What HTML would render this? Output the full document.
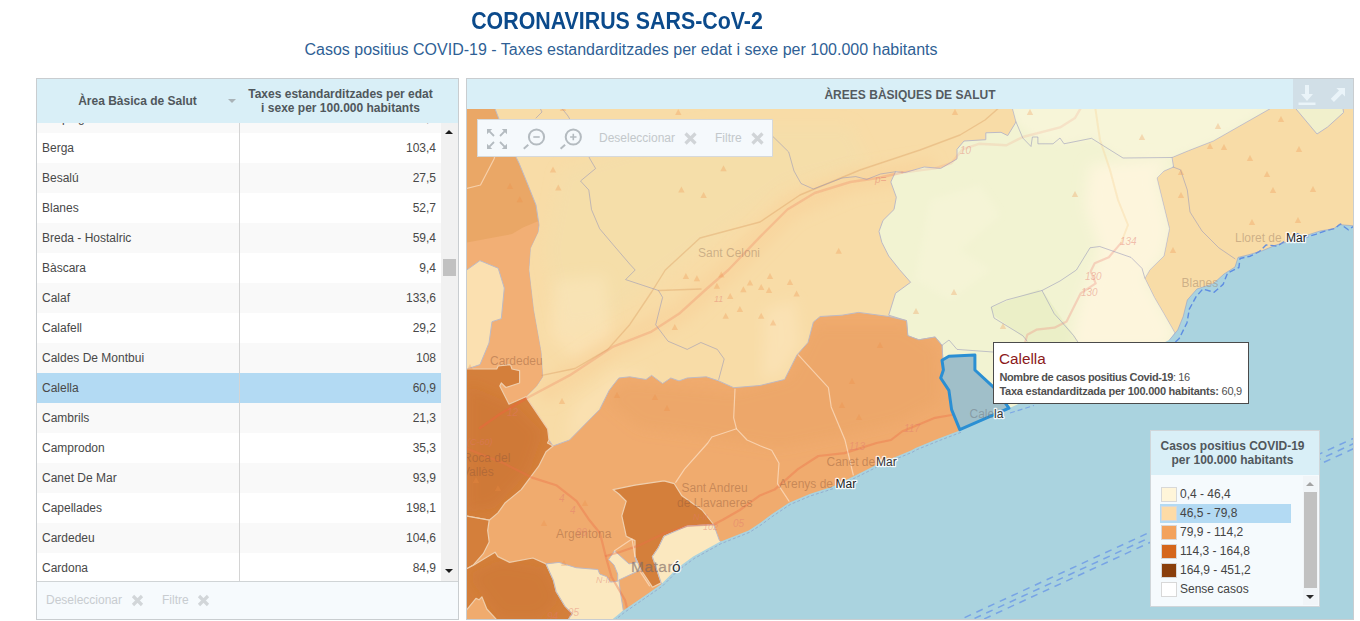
<!DOCTYPE html>
<html>
<head>
<meta charset="utf-8">
<title>CORONAVIRUS SARS-CoV-2</title>
<style>
html,body{margin:0;padding:0;}
body{width:1360px;height:621px;overflow:hidden;background:#fff;font-family:"Liberation Sans",sans-serif;position:relative;}
#title{position:absolute;left:0;top:8px;width:1234px;text-align:center;font-size:23px;font-weight:bold;color:#0b4a8b;letter-spacing:0;line-height:26px;white-space:nowrap;transform:scaleX(0.929);transform-origin:50% 50%;}
#subtitle{position:absolute;left:0;top:40px;width:1242px;text-align:center;font-size:16px;color:#2f5f95;letter-spacing:0;line-height:20px;white-space:nowrap;}
/* table panel */
#tpanel{position:absolute;left:36px;top:78px;width:423px;height:542px;border:1px solid #c9cdd0;box-sizing:border-box;background:#fff;overflow:hidden;}
#thead{position:absolute;left:0;top:0;width:421px;height:44px;background:#d9eff7;}
#thead .c1{position:absolute;left:0;top:0;width:201px;height:44px;line-height:45px;text-align:center;font-size:12px;font-weight:bold;color:#50575c;}
#thead .c2{position:absolute;left:209px;top:8px;width:189px;text-align:center;font-size:12px;font-weight:bold;color:#50575c;line-height:14px;}
#thead .arr{position:absolute;left:191px;top:20px;width:0;height:0;border-left:4px solid transparent;border-right:4px solid transparent;border-top:4px solid #a9b3b8;}
#tbody{position:absolute;left:0;top:44px;width:404px;height:459px;overflow:hidden;}
.row{position:absolute;left:0;width:404px;height:30px;font-size:12px;color:#484848;line-height:30px;}
.row.odd{background:#f9f9f9;}
.row.sel{background:#b3daf3;}
.row .n{position:absolute;left:5px;top:0;}
.row .v{position:absolute;right:5px;top:0;}
#coldiv{position:absolute;left:202px;top:44px;width:1px;height:459px;background:#d4d4d4;}
#sbar{position:absolute;left:404px;top:44px;width:17px;height:459px;background:#f1f1f1;}
#sbar .up{position:absolute;left:4px;top:7px;width:0;height:0;border-left:4px solid transparent;border-right:4px solid transparent;border-bottom:4px solid #1c1c1c;}
#sbar .dn{position:absolute;left:4px;top:446px;width:0;height:0;border-left:4px solid transparent;border-right:4px solid transparent;border-top:4px solid #1c1c1c;}
#sbar .th{position:absolute;left:2px;top:136px;width:13px;height:17px;background:#c1c1c1;}
#tfoot{position:absolute;left:0;top:502px;width:421px;height:37px;background:#f6fafd;border-top:1px solid #d0d4d6;font-size:12px;color:#c8ccd0;line-height:36px;}
.xic{position:absolute;}
/* map panel */
#mpanel{position:absolute;left:466px;top:78px;width:888px;height:542px;border:1px solid #c9cdd0;box-sizing:border-box;background:#a8cfe2;overflow:hidden;}
#mhead{position:absolute;left:0;top:0;width:886px;height:30px;background:#d9eff7;text-align:center;font-size:12px;font-weight:bold;color:#545b60;line-height:32px;letter-spacing:0.02px;}
#mbtns{position:absolute;left:826px;top:0;width:60px;height:30px;background:#d1dfe7;}
#map{position:absolute;left:0;top:30px;width:887px;height:511px;}
#tbar{position:absolute;left:10px;top:40px;width:296px;height:38px;background:#f5f9fc;border:1px solid #d6d9db;box-sizing:border-box;font-size:12px;color:#c3c8cb;line-height:37px;}
#tip{position:absolute;left:526px;top:263px;width:256px;height:62px;background:#fff;border:1px solid #4a4a4a;box-sizing:border-box;}
#tip .t{position:absolute;left:5px;top:6px;font-size:15.3px;color:#8b1a1a;line-height:20px;}
#tip .l1,#tip .l2{position:absolute;left:5.4px;font-size:11px;color:#505050;line-height:14px;white-space:nowrap;letter-spacing:-0.2px;}
#tip .l1{top:27px;letter-spacing:-0.39px;}
#tip .l2{top:41px;letter-spacing:-0.24px;}
#legend{position:absolute;left:683px;top:351px;width:170px;height:177px;background:#f5fafd;border:1px solid #d0d6da;box-sizing:border-box;}
#legend .h{position:absolute;left:0;top:0;width:168px;height:44px;background:#d9eff7;text-align:center;padding-right:5px;font-size:12px;font-weight:bold;color:#50575c;line-height:14px;padding-top:8px;box-sizing:border-box;}
.li{position:absolute;left:9px;width:131px;height:19px;font-size:12px;color:#444;line-height:19px;}
.li .sw{position:absolute;left:1px;top:2px;width:16px;height:15px;border:1px solid #d8d8d8;box-sizing:border-box;}
.li .tx{position:absolute;left:20px;top:0;white-space:nowrap;}
#lsb{position:absolute;left:152px;top:45px;width:15px;height:129px;background:#f1f5f8;}
#lsb .up{position:absolute;left:3px;top:6px;width:0;height:0;border-left:4px solid transparent;border-right:4px solid transparent;border-bottom:4px solid #a3a3a3;}
#lsb .dn{position:absolute;left:3px;top:119px;width:0;height:0;border-left:4px solid transparent;border-right:4px solid transparent;border-top:4px solid #2a2a2a;}
#lsb .th{position:absolute;left:1px;top:16px;width:13px;height:96px;background:#c1c1c1;}
</style>
</head>
<body>
<div id="title">CORONAVIRUS SARS-CoV-2</div>
<div id="subtitle">Casos positius COVID-19 - Taxes estandarditzades per edat i sexe per 100.000 habitants</div>

<div id="tpanel">
  <div id="thead">
    <div class="c1">Àrea Bàsica de Salut</div>
    <div class="arr"></div>
    <div class="c2">Taxes estandarditzades per edat<br>i sexe per 100.000 habitants</div>
  </div>
  <div id="tbody">
    <div class="row odd" style="top:-20px"><span class="n">Bellpuig</span><span class="v">37,1</span></div>
    <div class="row" style="top:10px"><span class="n">Berga</span><span class="v">103,4</span></div>
    <div class="row odd" style="top:40px"><span class="n">Besalú</span><span class="v">27,5</span></div>
    <div class="row" style="top:70px"><span class="n">Blanes</span><span class="v">52,7</span></div>
    <div class="row odd" style="top:100px"><span class="n">Breda - Hostalric</span><span class="v">59,4</span></div>
    <div class="row" style="top:130px"><span class="n">Bàscara</span><span class="v">9,4</span></div>
    <div class="row odd" style="top:160px"><span class="n">Calaf</span><span class="v">133,6</span></div>
    <div class="row" style="top:190px"><span class="n">Calafell</span><span class="v">29,2</span></div>
    <div class="row odd" style="top:220px"><span class="n">Caldes De Montbui</span><span class="v">108</span></div>
    <div class="row sel" style="top:250px"><span class="n">Calella</span><span class="v">60,9</span></div>
    <div class="row odd" style="top:280px"><span class="n">Cambrils</span><span class="v">21,3</span></div>
    <div class="row" style="top:310px"><span class="n">Camprodon</span><span class="v">35,3</span></div>
    <div class="row odd" style="top:340px"><span class="n">Canet De Mar</span><span class="v">93,9</span></div>
    <div class="row" style="top:370px"><span class="n">Capellades</span><span class="v">198,1</span></div>
    <div class="row odd" style="top:400px"><span class="n">Cardedeu</span><span class="v">104,6</span></div>
    <div class="row" style="top:430px"><span class="n">Cardona</span><span class="v">84,9</span></div>
  </div>
  <div id="coldiv"></div>
  <div id="sbar"><div class="up"></div><div class="th"></div><div class="dn"></div></div>
  <div id="tfoot">
    <span style="position:absolute;left:9px;top:0;">Deseleccionar</span>
    <svg class="xic" style="left:94px;top:12px" width="13" height="13" viewBox="0 0 13 13"><path d="M2 2 L11 11 M11 2 L2 11" stroke="#d2d6d9" stroke-width="3.2" fill="none"/></svg>
    <span style="position:absolute;left:125px;top:0;">Filtre</span>
    <svg class="xic" style="left:160px;top:12px" width="13" height="13" viewBox="0 0 13 13"><path d="M2 2 L11 11 M11 2 L2 11" stroke="#d2d6d9" stroke-width="3.2" fill="none"/></svg>
  </div>
</div>

<div id="mpanel">
  <div id="mhead">ÀREES BÀSIQUES DE SALUT</div>
  <div id="mbtns">
    <svg style="position:absolute;left:0;top:0" width="60" height="30" viewBox="0 0 60 30">
      <g fill="#eaf4f9">
        <path d="M12 6 H16 V15 H20 L14 22 L8 15 H12 Z"/>
        <rect x="5.5" y="23.5" width="17" height="2.5"/>
        <path d="M52 8.9 L52 17.6 L49.1 14.7 L40.9 22.9 L37.8 19.8 L46 11.6 L43.3 8.9 Z"/>
      </g>
    </svg>
  </div>
  <div id="map">
<!--MAPSVG-->
<svg width="887" height="511" viewBox="467 109 887 511" style="position:absolute;left:0;top:0;display:block">
<rect x="465" y="107" width="891" height="515" fill="#f8dca7"/>
<defs><clipPath id="landclip"><rect x="460" y="100" width="900" height="530"/></clipPath><filter id="bl" x="-20%" y="-20%" width="140%" height="140%"><feGaussianBlur stdDeviation="7"/></filter><filter id="bs" x="-20%" y="-20%" width="140%" height="140%"><feGaussianBlur stdDeviation="3"/></filter></defs>
<polygon points="560.0,170.0 700.0,125.0 850.0,125.0 870.0,165.0 790.0,185.0 720.0,235.0 650.0,285.0 600.0,325.0 560.0,330.0 545.0,250.0" fill="rgba(240,226,176,0.30)" filter="url(#bl)"/>
<polygon points="555.0,280.0 605.0,275.0 612.0,340.0 575.0,360.0 550.0,335.0" fill="rgba(255,238,205,0.30)" filter="url(#bl)"/>
<polygon points="575.0,405.0 600.0,385.0 612.0,372.0 650.0,372.0 610.0,400.0 585.0,430.0 565.0,440.0" fill="rgba(255,238,205,0.28)" filter="url(#bl)"/>
<polygon points="765.0,310.0 795.0,300.0 800.0,345.0 780.0,375.0 762.0,380.0" fill="rgba(255,240,210,0.30)" filter="url(#bl)"/>
<polyline points="540.0,395.0 613.0,346.0 680.0,313.0 728.0,270.0 790.0,208.0 850.0,182.0 935.0,168.0" fill="none" stroke="rgba(250,200,140,0.30)" stroke-width="22" filter="url(#bl)"/>
<polygon points="1011.8,106.0 1016.0,122.0 1007.7,135.6 1001.0,132.3 985.8,132.8 985.8,139.7 964.0,141.0 957.0,149.3 957.0,158.9 940.7,168.4 924.2,167.0 905.0,172.5 895.5,171.7 890.8,182.0 896.3,197.2 894.0,209.5 883.0,220.4 879.0,231.4 881.8,242.3 888.7,256.0 899.6,269.7 910.6,282.3 895.5,293.3 888.7,315.2 906.5,320.6 907.8,335.7 918.8,339.8 935.2,337.0 942.0,345.3 942.9,360.3 948.9,356.2 974.9,354.9 974.9,370.0 994.0,387.7 1009.0,408.2 1020.0,420.0 1180.0,345.0 1169.5,341.2 1175.0,333.0 1164.0,313.8 1154.4,297.4 1144.9,278.2 1150.0,269.7 1164.0,256.0 1169.5,228.7 1157.0,178.0 1164.0,171.0 1173.6,167.0 1172.0,157.5 1188.7,150.6 1213.3,141.0 1274.9,106.0" fill="#f2f3d2" stroke="#bdbac6" stroke-width="1" stroke-linejoin="round"/>
<clipPath id="cpale"><polygon points="1011.8,106.0 1016.0,122.0 1007.7,135.6 1001.0,132.3 985.8,132.8 985.8,139.7 964.0,141.0 957.0,149.3 957.0,158.9 940.7,168.4 924.2,167.0 905.0,172.5 895.5,171.7 890.8,182.0 896.3,197.2 894.0,209.5 883.0,220.4 879.0,231.4 881.8,242.3 888.7,256.0 899.6,269.7 910.6,282.3 895.5,293.3 888.7,315.2 906.5,320.6 907.8,335.7 918.8,339.8 935.2,337.0 942.0,345.3 942.9,360.3 948.9,356.2 974.9,354.9 974.9,370.0 994.0,387.7 1009.0,408.2 1020.0,420.0 1180.0,345.0 1169.5,341.2 1175.0,333.0 1164.0,313.8 1154.4,297.4 1144.9,278.2 1150.0,269.7 1164.0,256.0 1169.5,228.7 1157.0,178.0 1164.0,171.0 1173.6,167.0 1172.0,157.5 1188.7,150.6 1213.3,141.0 1274.9,106.0"/></clipPath>
<g clip-path="url(#cpale)">
<polygon points="1010.0,100.0 1280.0,100.0 1215.0,140.0 1172.0,157.0 1123.0,158.0 1091.0,138.0 1064.0,144.0 1040.0,140.0 1016.0,122.0" fill="rgba(252,246,220,0.55)" filter="url(#bs)"/>
<polygon points="930.0,200.0 980.0,185.0 1000.0,215.0 960.0,250.0 990.0,270.0 950.0,300.0 915.0,280.0" fill="rgba(250,246,220,0.35)" filter="url(#bs)"/>
<polygon points="1090.0,165.0 1172.0,158.0 1157.0,178.0 1170.0,229.0 1164.0,256.0 1145.0,278.0 1175.0,333.0 1165.0,350.0 1070.0,350.0 1080.0,300.0 1100.0,250.0 1085.0,205.0" fill="rgba(255,246,222,0.85)" filter="url(#bl)"/>
<polygon points="990.0,307.5 1038.4,289.4 1044.4,293.4 1066.6,325.6 1078.6,341.7 1027.0,342.0 1024.3,337.7 994.0,315.6" fill="rgba(226,234,186,0.45)"/>
</g>
<polygon points="1293.5,106.0 1317.0,134.0 1327.6,127.0 1343.6,112.5 1342.6,106.0" fill="#f1f0cc" stroke="#bdbac6" stroke-width="1" stroke-linejoin="round"/>
<polygon points="465.0,106.0 494.0,106.0 505.0,135.0 519.0,163.0 528.0,185.0 536.0,205.0 539.0,225.0 538.0,232.0 530.3,248.3 528.8,269.8 533.4,309.5 541.0,352.3 542.6,376.8 536.5,386.0 525.7,396.7 509.0,404.3 499.8,386.0 496.7,369.0 465.0,369.0" fill="#eaa766" stroke="#bdbac6" stroke-width="1" stroke-linejoin="round"/>
<polygon points="465.0,243.0 491.0,238.0 512.0,234.0 523.0,227.5 538.5,221.0 538.0,232.0 530.3,248.3 528.8,269.8 533.4,309.5 541.0,352.3 542.6,376.8 536.5,386.0 525.7,396.7 509.0,404.3 499.8,386.0 496.7,369.0 465.0,369.0" fill="#f2af75"/>
<polygon points="465.0,270.5 467.0,269.8 479.9,260.6 498.2,268.2 504.3,288.0 501.3,318.7 492.0,321.7 489.0,343.0 480.0,364.6 467.0,369.0 465.0,369.0" fill="#fbe0b0" stroke="#bdbac6" stroke-width="1" stroke-linejoin="round"/>
<polygon points="465.0,440.0 549.0,440.0 553.0,446.0 569.5,440.0 591.4,417.8 599.6,409.6 609.2,390.4 613.3,385.0 618.8,378.0 629.7,376.8 646.0,379.5 651.6,375.4 662.6,383.6 670.8,378.0 679.0,380.9 687.2,378.0 706.4,376.8 718.7,380.9 733.7,387.7 760.0,385.5 784.6,379.5 797.0,354.9 808.0,342.5 813.4,322.0 820.2,316.5 842.0,315.2 858.5,312.4 888.7,316.5 906.5,320.6 907.8,335.7 918.8,339.8 935.2,337.0 942.0,345.3 942.9,360.3 943.4,370.0 940.7,378.0 948.9,390.4 951.6,409.6 959.8,429.6 965.0,440.0 609.0,625.0 465.0,625.0" fill="#f0ab6e" stroke="#bdbac6" stroke-width="1" stroke-linejoin="round"/>
<polygon points="465.0,369.0 496.7,369.0 498.2,366.0 510.5,364.6 512.0,369.0 519.6,370.7 519.6,383.0 505.9,387.5 501.3,383.0 499.8,386.0 509.0,404.3 525.7,396.7 547.6,428.8 549.0,440.0 547.5,443.0 553.0,446.0 546.0,451.7 538.7,466.2 521.2,489.6 505.2,502.7 497.9,512.9 489.2,520.2 465.0,515.8" fill="#d47f3b" stroke="#efcfae" stroke-width="1.2" stroke-linejoin="round"/>
<polygon points="465.0,515.8 489.2,520.2 487.7,530.4 489.2,542.0 483.3,553.7 473.0,565.4 465.0,569.7" fill="#d47f3b" stroke="#efcfae" stroke-width="1.2" stroke-linejoin="round"/>
<polygon points="465.0,569.7 473.0,565.4 495.0,552.2 497.9,556.6 509.6,562.4 532.9,558.0 546.0,563.9 553.3,580.0 556.2,591.6 565.0,606.2 572.2,613.5 565.0,625.0 501.5,625.0 486.8,609.0 481.9,596.8 479.0,599.8 476.0,598.3 465.0,612.0" fill="#d47f3b" stroke="#efcfae" stroke-width="1.2" stroke-linejoin="round"/>
<polygon points="613.0,489.6 635.0,485.2 664.0,480.8 674.3,483.7 681.6,495.4 702.0,510.0 713.6,524.5 687.4,526.0 664.0,536.2 658.3,547.9 652.4,556.6 661.2,582.9 652.4,587.2 640.8,569.7 635.0,556.6 635.0,540.6 626.2,536.2 621.8,515.8 626.2,501.2 618.9,494.0" fill="#d47f3b" stroke="#efcfae" stroke-width="1.2" stroke-linejoin="round"/>
<clipPath id="cd1"><polygon points="465.0,369.0 496.7,369.0 498.2,366.0 510.5,364.6 512.0,369.0 519.6,370.7 519.6,383.0 505.9,387.5 501.3,383.0 499.8,386.0 509.0,404.3 525.7,396.7 547.6,428.8 549.0,440.0 547.5,443.0 553.0,446.0 546.0,451.7 538.7,466.2 521.2,489.6 505.2,502.7 497.9,512.9 489.2,520.2 465.0,515.8"/><polygon points="465.0,569.7 473.0,565.4 495.0,552.2 497.9,556.6 509.6,562.4 532.9,558.0 546.0,563.9 553.3,580.0 556.2,591.6 565.0,606.2 572.2,613.5 565.0,625.0 501.5,625.0 486.8,609.0 481.9,596.8 479.0,599.8 476.0,598.3 465.0,612.0"/></clipPath>
<g clip-path="url(#cd1)">
<polygon points="467.0,385.0 515.0,405.0 543.0,432.0 530.0,470.0 495.0,508.0 467.0,512.0" fill="rgba(190,100,40,0.20)" filter="url(#bl)"/>
<polygon points="467.0,575.0 500.0,560.0 545.0,568.0 560.0,600.0 540.0,619.0 500.0,619.0" fill="rgba(190,100,40,0.18)" filter="url(#bl)"/>
</g>
<clipPath id="cband"><polygon points="465.0,440.0 549.0,440.0 553.0,446.0 569.5,440.0 591.4,417.8 599.6,409.6 609.2,390.4 613.3,385.0 618.8,378.0 629.7,376.8 646.0,379.5 651.6,375.4 662.6,383.6 670.8,378.0 679.0,380.9 687.2,378.0 706.4,376.8 718.7,380.9 733.7,387.7 760.0,385.5 784.6,379.5 797.0,354.9 808.0,342.5 813.4,322.0 820.2,316.5 842.0,315.2 858.5,312.4 888.7,316.5 906.5,320.6 907.8,335.7 918.8,339.8 935.2,337.0 942.0,345.3 942.9,360.3 943.4,370.0 940.7,378.0 948.9,390.4 951.6,409.6 959.8,429.6 965.0,440.0 609.0,625.0 465.0,625.0"/></clipPath>
<g clip-path="url(#cband)">
<polygon points="605.0,400.0 625.0,382.0 735.0,392.0 790.0,378.0 815.0,325.0 905.0,325.0 938.0,348.0 940.0,400.0 900.0,422.0 840.0,436.0 780.0,448.0 700.0,436.0 640.0,428.0" fill="rgba(225,150,85,0.20)" filter="url(#bl)"/>
</g>
<polygon points="546.0,563.9 559.0,562.4 576.0,567.7 597.9,569.5 599.7,574.0 606.9,576.7 610.5,582.1 617.7,581.2 617.7,574.0 614.0,565.0 608.7,559.5 614.5,550.8 629.0,563.9 636.4,562.4 635.0,556.6 640.8,569.7 618.9,580.0 620.3,591.6 623.3,610.6 609.0,625.0 565.0,625.0 572.2,613.5 565.0,606.2 556.2,591.6 553.3,580.0" fill="#fbe8bf" stroke="#bdbac6" stroke-width="1" stroke-linejoin="round"/>
<polygon points="664.0,536.2 687.4,526.0 713.6,524.5 719.5,540.6 725.0,545.0 665.0,590.0 661.2,582.9 652.4,556.6 658.3,547.9" fill="#fbe8bf" stroke="#bdbac6" stroke-width="1" stroke-linejoin="round"/>
<polyline points="465.0,448.0 503.7,463.3 532.9,477.9 556.2,485.2 576.6,501.2 588.3,518.7 600.0,533.3 605.8,556.6 611.6,577.0 625.0,600.0 628.0,612.0" fill="none" stroke="rgba(236,110,70,0.38)" stroke-width="2.2" stroke-linejoin="round" stroke-linecap="round"/>
<polyline points="480.0,428.0 500.0,414.0 525.7,398.7" fill="none" stroke="rgba(240,100,60,0.45)" stroke-width="2.4" stroke-linejoin="round" stroke-linecap="round"/>
<polyline points="525.7,398.7 569.5,375.4 613.3,346.6 651.6,331.6 679.0,313.8 706.4,289.0 728.3,270.0 760.0,236.9 787.4,209.5 814.7,193.0 850.3,182.0 877.7,178.0 902.3,172.5" fill="none" stroke="rgba(236,120,90,0.26)" stroke-width="2.4" stroke-linejoin="round" stroke-linecap="round"/>
<polyline points="902.3,172.5 935.2,168.4 951.6,163.0 962.6,149.3 979.0,143.8 1006.4,145.2 1022.8,137.0 1060.0,127.4 1075.0,118.0 1082.0,106.0" fill="none" stroke="rgba(240,130,110,0.16)" stroke-width="2.4" stroke-linejoin="round" stroke-linecap="round"/>
<polyline points="606.0,556.0 620.0,552.0 640.0,545.0 665.0,533.0 687.0,526.0 713.6,524.5 722.4,520.0 739.9,510.0 760.0,495.4 774.6,489.6 797.9,469.2 818.3,456.0 844.5,453.1 876.6,443.0 891.0,440.0 902.0,431.5 935.0,417.8 951.6,415.0 975.0,404.0 1000.0,392.0" fill="none" stroke="rgba(236,110,70,0.38)" stroke-width="2.2" stroke-linejoin="round" stroke-linecap="round"/>
<polyline points="1121.0,243.0 1128.0,225.0 1118.0,200.0 1110.0,170.0 1100.0,140.0 1095.0,106.0" fill="none" stroke="rgba(250,205,140,0.30)" stroke-width="2" stroke-linejoin="round" stroke-linecap="round"/>
<polyline points="1120.9,243.1 1108.8,257.2 1094.7,263.2 1090.7,271.3 1095.7,283.4 1080.6,293.4 1072.6,309.5 1066.6,321.6 1054.5,327.7 1036.4,329.7 1027.3,334.7 1025.3,341.7" fill="none" stroke="rgba(238,130,120,0.30)" stroke-width="2.2" stroke-linejoin="round" stroke-linecap="round"/>
<polyline points="542.0,375.4 575.0,368.5 607.8,349.4 629.7,324.7 651.6,292.0 665.3,270.0 700.0,238.0 760.0,222.0 800.0,195.0 860.0,170.0 920.0,150.0 960.0,135.0 985.0,120.0 1001.0,106.0" fill="none" stroke="rgba(214,150,90,0.35)" stroke-width="1.4" stroke-linejoin="round" stroke-linecap="round"/>
<polyline points="658.5,290.5 701.0,289.0" fill="none" stroke="rgba(214,150,90,0.35)" stroke-width="1.4" stroke-linejoin="round" stroke-linecap="round"/>
<polygon points="1356.0,226.0 1339.0,224.6 1333.7,228.7 1320.0,231.0 1306.0,235.5 1287.0,242.0 1276.0,245.0 1262.6,250.6 1249.0,254.7 1238.0,257.4 1235.0,267.0 1224.0,274.0 1213.3,283.7 1196.9,289.0 1187.3,300.0 1183.2,316.5 1177.7,330.0 1169.5,339.8 1150.0,350.0 1100.0,370.0 1050.0,390.0 1009.0,408.2 959.8,430.5 938.6,438.6 915.5,447.9 911.6,450.2 876.6,464.8 856.2,475.0 832.9,486.6 809.6,494.0 789.0,502.7 771.7,514.3 760.0,523.0 748.6,530.4 719.5,542.0 693.2,556.6 677.2,568.3 661.2,584.3 646.6,594.5 623.3,610.6 609.0,622.0 1356.0,625.0" fill="#aad3df"/>
<polyline points="560.0,106.0 568.0,116.0 576.0,130.0 590.0,159.0 595.6,168.5 580.5,181.0 588.8,190.0 591.5,209.6 599.7,228.8 613.4,245.0 630.0,264.4 635.2,270.0 625.6,279.6 658.5,290.5 662.6,297.4 655.7,324.8 668.0,341.2 687.2,349.4 700.9,342.5 717.3,349.4 724.2,359.0 718.7,379.5" fill="none" stroke="rgba(150,150,185,0.55)" stroke-width="1" stroke-linejoin="round" stroke-linecap="round"/>
<polyline points="760.0,128.0 772.0,135.6 788.7,152.0 794.0,171.0 801.0,183.5 813.4,189.0 842.0,178.0 855.8,176.6 866.8,179.4 880.4,174.0 895.5,171.7" fill="none" stroke="rgba(150,150,185,0.55)" stroke-width="1" stroke-linejoin="round" stroke-linecap="round"/>
<polyline points="1016.0,122.0 1022.8,138.0 1031.0,146.5 1032.4,137.0 1037.9,137.0 1037.9,143.8 1053.0,143.8 1060.0,138.0 1064.0,143.8 1091.5,138.3 1123.0,158.0 1172.0,157.5" fill="none" stroke="rgba(150,150,185,0.55)" stroke-width="1" stroke-linejoin="round" stroke-linecap="round"/>
<polyline points="1144.9,278.2 1142.0,268.4 1131.0,257.4 1099.7,246.5 1090.0,247.8 1076.4,270.0 1060.0,281.0 1042.0,290.5 1006.4,300.0 991.3,307.0 994.0,318.0 1022.8,335.7 1027.0,341.0" fill="none" stroke="rgba(150,150,185,0.55)" stroke-width="1" stroke-linejoin="round" stroke-linecap="round"/>
<polyline points="1042.0,290.5 1054.3,313.8 1060.0,320.0 1073.7,335.7 1077.8,342.0" fill="none" stroke="rgba(150,150,185,0.55)" stroke-width="1" stroke-linejoin="round" stroke-linecap="round"/>
<polyline points="1173.0,167.0 1180.5,169.8 1187.3,190.0 1190.0,212.0 1202.0,231.0 1218.8,247.8 1235.0,258.8" fill="none" stroke="rgba(150,150,185,0.55)" stroke-width="1" stroke-linejoin="round" stroke-linecap="round"/>
<polyline points="942.0,345.3 949.0,340.0 957.0,349.4 992.7,352.0" fill="none" stroke="rgba(150,150,185,0.55)" stroke-width="1" stroke-linejoin="round" stroke-linecap="round"/>
<polyline points="539.0,106.0 542.0,112.0 536.0,118.0" fill="none" stroke="rgba(150,150,185,0.55)" stroke-width="1" stroke-linejoin="round" stroke-linecap="round"/>
<polyline points="465.0,189.0 480.5,185.0 494.0,159.0 500.0,140.0" fill="none" stroke="rgba(255,235,215,0.6)" stroke-width="1.2" stroke-linejoin="round" stroke-linecap="round"/>
<polyline points="735.0,389.0 733.7,417.8 736.5,428.8 711.8,437.0 707.8,443.0 684.5,469.2 675.7,482.3" fill="none" stroke="rgba(255,235,215,0.6)" stroke-width="1.2" stroke-linejoin="round" stroke-linecap="round"/>
<polyline points="798.3,354.9 828.4,387.7 831.2,406.9 844.9,439.7 853.3,475.0" fill="none" stroke="rgba(255,235,215,0.6)" stroke-width="1.2" stroke-linejoin="round" stroke-linecap="round"/>
<polyline points="736.5,428.8 747.0,440.0 760.0,445.8 771.7,450.2 779.0,463.3 777.5,483.7 789.0,501.2" fill="none" stroke="rgba(255,235,215,0.6)" stroke-width="1.2" stroke-linejoin="round" stroke-linecap="round"/>
<polyline points="614.5,550.8 632.0,539.0 635.0,556.6" fill="none" stroke="rgba(255,235,215,0.6)" stroke-width="1.2" stroke-linejoin="round" stroke-linecap="round"/>
<polyline points="640.8,572.6 649.5,585.8" fill="none" stroke="rgba(255,235,215,0.6)" stroke-width="1.2" stroke-linejoin="round" stroke-linecap="round"/>
<polygon points="942.0,360.3 948.9,356.2 974.9,354.9 974.9,370.0 994.0,387.7 1009.0,408.2 959.8,429.6 951.6,409.6 948.9,390.4 940.7,378.0 943.4,370.0" fill="#a0bfc9" stroke="#2b8fd3" stroke-width="3" stroke-linejoin="round"/>
<polyline points="952.9,623.0 1357.9,436.3" fill="none" stroke="#6f9be6" stroke-width="1.5" stroke-linejoin="round" stroke-linecap="butt" stroke-dasharray="7,5.9" stroke-dashoffset="0.0" opacity="0.85"/>
<polyline points="955.0,627.4 1360.0,440.7" fill="none" stroke="#6f9be6" stroke-width="1.5" stroke-linejoin="round" stroke-linecap="butt" stroke-dasharray="7,5.9" stroke-dashoffset="4.3" opacity="0.85"/>
<polyline points="956.9,631.5 1361.9,444.8" fill="none" stroke="#6f9be6" stroke-width="1.5" stroke-linejoin="round" stroke-linecap="butt" stroke-dasharray="7,5.9" stroke-dashoffset="8.6" opacity="0.85"/>
<polyline points="1356.0,224.5 1352.8,226.9 1348.3,229.8 1340.4,224.0 1334.7,228.5 1325.7,230.7 1315.6,234.4 1306.6,237.0 1297.5,233.7 1286.3,240.4 1277.2,246.0 1266.0,245.0 1259.2,251.7 1250.2,256.2 1240.0,258.5 1238.9,267.5 1227.6,273.0 1223.1,284.4 1214.1,292.3 1202.8,289.0 1196.0,296.8 1189.3,309.2 1187.0,322.7 1179.2,338.5 1172.0,345.0" fill="none" stroke="#5585e2" stroke-width="1.4" stroke-linejoin="round" stroke-linecap="butt" stroke-dasharray="6,3" opacity="0.9"/>
<polyline points="1010.0,413.0 1034.0,405.5" fill="none" stroke="#6f9be6" stroke-width="1.1" stroke-linejoin="round" stroke-linecap="butt" stroke-dasharray="5,3" opacity="0.8"/>
<polyline points="1356.0,226.0 1339.0,224.6 1333.7,228.7 1320.0,231.0 1306.0,235.5 1287.0,242.0 1276.0,245.0 1262.6,250.6 1249.0,254.7 1238.0,257.4 1235.0,267.0 1224.0,274.0 1213.3,283.7 1196.9,289.0 1187.3,300.0 1183.2,316.5 1177.7,330.0 1169.5,339.8" fill="none" stroke="rgba(140,150,200,0.5)" stroke-width="1" stroke-linejoin="round" stroke-linecap="round"/>
<polyline points="961.0,432.3 939.8,440.4 916.7,449.7 912.8,452.0 877.8,466.6 857.4,476.8 834.1,488.4 810.8,495.8 790.2,504.5 772.9,516.1 761.2,524.8 749.8,532.2 720.7,543.8 694.4,558.4 678.4,570.1 662.4,586.1 647.8,596.3 624.5,612.4 610.2,623.8" fill="none" stroke="rgba(120,130,190,0.45)" stroke-width="1" stroke-linejoin="round" stroke-linecap="butt" stroke-dasharray="3,2"/>
<path d="M678.3 109.0 l3.2 6 h-6.4 z" fill="rgba(238,140,70,0.28)"/>
<path d="M510.0 183.0 l3.2 6 h-6.4 z" fill="rgba(238,140,70,0.28)"/>
<path d="M519.8 196.3 l3.2 6 h-6.4 z" fill="rgba(238,140,70,0.28)"/>
<path d="M553.0 166.6 l3.2 6 h-6.4 z" fill="rgba(238,140,70,0.28)"/>
<path d="M558.3 184.4 l3.2 6 h-6.4 z" fill="rgba(238,140,70,0.28)"/>
<path d="M723.5 165.3 l3.2 6 h-6.4 z" fill="rgba(238,140,70,0.28)"/>
<path d="M681.4 186.6 l3.2 6 h-6.4 z" fill="rgba(238,140,70,0.28)"/>
<path d="M703.6 191.9 l3.2 6 h-6.4 z" fill="rgba(238,140,70,0.28)"/>
<path d="M838.7 247.7 l3.2 6 h-6.4 z" fill="rgba(238,140,70,0.28)"/>
<path d="M685.9 272.9 l3.2 6 h-6.4 z" fill="rgba(238,140,70,0.28)"/>
<path d="M696.9 275.2 l3.2 6 h-6.4 z" fill="rgba(238,140,70,0.28)"/>
<path d="M721.3 271.6 l3.2 6 h-6.4 z" fill="rgba(238,140,70,0.28)"/>
<path d="M716.9 282.7 l3.2 6 h-6.4 z" fill="rgba(238,140,70,0.28)"/>
<path d="M750.0 279.6 l3.2 6 h-6.4 z" fill="rgba(238,140,70,0.28)"/>
<path d="M770.0 272.9 l3.2 6 h-6.4 z" fill="rgba(238,140,70,0.28)"/>
<path d="M743.4 286.2 l3.2 6 h-6.4 z" fill="rgba(238,140,70,0.28)"/>
<path d="M761.2 284.0 l3.2 6 h-6.4 z" fill="rgba(238,140,70,0.28)"/>
<path d="M730.2 292.9 l3.2 6 h-6.4 z" fill="rgba(238,140,70,0.28)"/>
<path d="M739.9 306.1 l3.2 6 h-6.4 z" fill="rgba(238,140,70,0.28)"/>
<path d="M725.7 312.8 l3.2 6 h-6.4 z" fill="rgba(238,140,70,0.28)"/>
<path d="M674.8 323.9 l3.2 6 h-6.4 z" fill="rgba(238,140,70,0.28)"/>
<path d="M796.6 290.6 l3.2 6 h-6.4 z" fill="rgba(238,140,70,0.28)"/>
<path d="M773.1 319.4 l3.2 6 h-6.4 z" fill="rgba(238,140,70,0.28)"/>
<path d="M761.2 312.8 l3.2 6 h-6.4 z" fill="rgba(238,140,70,0.28)"/>
<path d="M1281.0 116.0 l3.2 6 h-6.4 z" fill="rgba(238,140,70,0.28)"/>
<path d="M1224.0 144.0 l3.2 6 h-6.4 z" fill="rgba(238,140,70,0.28)"/>
<path d="M1210.0 143.0 l3.2 6 h-6.4 z" fill="rgba(238,140,70,0.28)"/>
<path d="M1250.0 155.0 l3.2 6 h-6.4 z" fill="rgba(238,140,70,0.28)"/>
<path d="M1299.0 146.0 l3.2 6 h-6.4 z" fill="rgba(238,140,70,0.28)"/>
<path d="M1267.0 171.0 l3.2 6 h-6.4 z" fill="rgba(238,140,70,0.28)"/>
<path d="M1273.0 187.0 l3.2 6 h-6.4 z" fill="rgba(238,140,70,0.28)"/>
<path d="M1313.0 186.0 l3.2 6 h-6.4 z" fill="rgba(238,140,70,0.28)"/>
<path d="M1181.0 169.0 l3.2 6 h-6.4 z" fill="rgba(238,140,70,0.28)"/>
<path d="M1252.0 219.0 l3.2 6 h-6.4 z" fill="rgba(238,140,70,0.28)"/>
<path d="M1298.0 217.0 l3.2 6 h-6.4 z" fill="rgba(238,140,70,0.28)"/>
<path d="M1173.0 247.0 l3.2 6 h-6.4 z" fill="rgba(238,140,70,0.28)"/>
<path d="M1181.0 192.0 l3.2 6 h-6.4 z" fill="rgba(238,140,70,0.28)"/>
<path d="M1142.0 134.0 l3.2 6 h-6.4 z" fill="rgba(238,140,70,0.28)"/>
<path d="M1218.0 123.0 l3.2 6 h-6.4 z" fill="rgba(238,140,70,0.28)"/>
<path d="M1075.0 191.0 l3.2 6 h-6.4 z" fill="rgba(238,140,70,0.28)"/>
<path d="M1030.0 109.0 l3.2 6 h-6.4 z" fill="rgba(238,140,70,0.28)"/>
<path d="M955.0 109.0 l3.2 6 h-6.4 z" fill="rgba(238,140,70,0.28)"/>
<path d="M852.0 378.0 l3.2 6 h-6.4 z" fill="rgba(238,140,70,0.28)"/>
<path d="M880.0 342.0 l3.2 6 h-6.4 z" fill="rgba(238,140,70,0.28)"/>
<path d="M842.0 402.0 l3.2 6 h-6.4 z" fill="rgba(238,140,70,0.28)"/>
<path d="M859.0 414.0 l3.2 6 h-6.4 z" fill="rgba(238,140,70,0.28)"/>
<path d="M617.0 392.0 l3.2 6 h-6.4 z" fill="rgba(238,140,70,0.28)"/>
<path d="M655.0 394.0 l3.2 6 h-6.4 z" fill="rgba(238,140,70,0.28)"/>
<path d="M667.0 405.0 l3.2 6 h-6.4 z" fill="rgba(238,140,70,0.28)"/>
<path d="M562.0 398.0 l3.2 6 h-6.4 z" fill="rgba(238,140,70,0.28)"/>
<path d="M470.0 364.0 l3.2 6 h-6.4 z" fill="rgba(238,140,70,0.28)"/>
<path d="M476.0 477.0 l3.2 6 h-6.4 z" fill="rgba(238,140,70,0.28)"/>
<path d="M498.0 485.0 l3.2 6 h-6.4 z" fill="rgba(238,140,70,0.28)"/>
<path d="M544.0 520.0 l3.2 6 h-6.4 z" fill="rgba(238,140,70,0.28)"/>
<path d="M585.0 500.0 l3.2 6 h-6.4 z" fill="rgba(238,140,70,0.28)"/>
<path d="M564.0 560.0 l3.2 6 h-6.4 z" fill="rgba(238,140,70,0.28)"/>
<path d="M1003.0 323.0 l3.2 6 h-6.4 z" fill="rgba(238,140,70,0.28)"/>
<path d="M954.0 289.0 l3.2 6 h-6.4 z" fill="rgba(238,140,70,0.28)"/>
<path d="M916.0 308.0 l3.2 6 h-6.4 z" fill="rgba(238,140,70,0.28)"/>
<path d="M769.0 287.0 l3.2 6 h-6.4 z" fill="rgba(238,140,70,0.28)"/>
<path d="M790.0 279.0 l3.2 6 h-6.4 z" fill="rgba(238,140,70,0.28)"/>
<path d="M563.0 105.0 l3.2 6 h-6.4 z" fill="rgba(238,140,70,0.28)"/>
<text x="698.0" y="256.5" font-family="Liberation Sans, sans-serif" font-size="12" fill="rgba(150,120,95,0.45)">Sant Celoni</text>
<text x="490.0" y="364.5" font-family="Liberation Sans, sans-serif" font-size="12" fill="rgba(140,85,55,0.42)">Cardedeu</text>
<text x="463.0" y="462.0" font-family="Liberation Sans, sans-serif" font-size="12" fill="rgba(140,85,55,0.42)">Roca del</text>
<text x="462.0" y="476.0" font-family="Liberation Sans, sans-serif" font-size="12" fill="rgba(140,85,55,0.42)">Vallès</text>
<text x="556.0" y="538.0" font-family="Liberation Sans, sans-serif" font-size="12" fill="rgba(140,85,55,0.42)">Argentona</text>
<text x="681.5" y="492.0" font-family="Liberation Sans, sans-serif" font-size="12" fill="rgba(140,85,55,0.42)">Sant Andreu</text>
<text x="677.0" y="507.0" font-family="Liberation Sans, sans-serif" font-size="12" fill="rgba(140,85,55,0.42)">de Llavaneres</text>
<text x="631.0" y="572.0" font-family="Liberation Sans, sans-serif" font-size="15.5" fill="rgba(125,105,100,0.6)" stroke="rgba(125,105,100,0.35)" stroke-width="0.5" letter-spacing="0.5">Matar</text>
<text x="672.0" y="572.0" font-family="Liberation Sans, sans-serif" font-size="15.5" fill="#2a3540" stroke="#ffffff" stroke-width="2.5" stroke-opacity="0.85" paint-order="stroke" stroke-linejoin="round">ó</text>
<text x="779.0" y="487.5" font-family="Liberation Sans, sans-serif" font-size="12" fill="rgba(140,85,55,0.42)">Arenys de</text>
<text x="835.5" y="487.5" font-family="Liberation Sans, sans-serif" font-size="12" fill="#222" stroke="#ffffff" stroke-width="2.5" stroke-opacity="0.85" paint-order="stroke" stroke-linejoin="round">Mar</text>
<text x="826.5" y="465.5" font-family="Liberation Sans, sans-serif" font-size="12" fill="rgba(140,85,55,0.42)">Canet de</text>
<text x="876.0" y="465.5" font-family="Liberation Sans, sans-serif" font-size="12" fill="#333" stroke="#ffffff" stroke-width="2.5" stroke-opacity="0.85" paint-order="stroke" stroke-linejoin="round">Mar</text>
<text x="969.5" y="417.5" font-family="Liberation Sans, sans-serif" font-size="12" fill="rgba(110,120,130,0.5)">Calel</text>
<text x="994.0" y="417.5" font-family="Liberation Sans, sans-serif" font-size="12" fill="#333" stroke="#ffffff" stroke-width="2.5" stroke-opacity="0.85" paint-order="stroke" stroke-linejoin="round">la</text>
<text x="1181.5" y="286.5" font-family="Liberation Sans, sans-serif" font-size="12" fill="rgba(150,120,95,0.45)">Blanes</text>
<text x="1235.0" y="242.0" font-family="Liberation Sans, sans-serif" font-size="12" fill="rgba(150,120,95,0.45)">Lloret de</text>
<text x="1286.0" y="242.0" font-family="Liberation Sans, sans-serif" font-size="12" fill="#222" stroke="#ffffff" stroke-width="2.5" stroke-opacity="0.85" paint-order="stroke" stroke-linejoin="round">Mar</text>
<text x="1120.0" y="245.0" font-family="Liberation Sans, sans-serif" font-size="10" fill="rgba(225,120,110,0.45)" font-style="italic">134</text>
<text x="1085.0" y="280.0" font-family="Liberation Sans, sans-serif" font-size="10" fill="rgba(225,120,110,0.45)" font-style="italic">130</text>
<text x="1081.0" y="296.0" font-family="Liberation Sans, sans-serif" font-size="10" fill="rgba(225,120,110,0.45)" font-style="italic">130</text>
<text x="849.0" y="450.0" font-family="Liberation Sans, sans-serif" font-size="10" fill="rgba(225,120,110,0.45)" font-style="italic">113</text>
<text x="904.0" y="432.0" font-family="Liberation Sans, sans-serif" font-size="10" fill="rgba(225,120,110,0.45)" font-style="italic">117</text>
<text x="467.0" y="445.0" font-family="Liberation Sans, sans-serif" font-size="9" fill="rgba(225,120,110,0.45)" font-style="italic">(C-60)</text>
<text x="547.0" y="620.0" font-family="Liberation Sans, sans-serif" font-size="10" fill="rgba(225,120,110,0.45)" font-style="italic">94</text>
<text x="568.0" y="616.0" font-family="Liberation Sans, sans-serif" font-size="10" fill="rgba(225,120,110,0.45)" font-style="italic">95</text>
<text x="576.0" y="536.0" font-family="Liberation Sans, sans-serif" font-size="10" fill="rgba(225,120,110,0.45)" font-style="italic">99</text>
<text x="596.0" y="583.0" font-family="Liberation Sans, sans-serif" font-size="9" fill="rgba(225,120,110,0.45)" font-style="italic">N-II</text>
<text x="693.0" y="520.0" font-family="Liberation Sans, sans-serif" font-size="9" fill="rgba(225,120,110,0.45)" font-style="italic">N-II</text>
<text x="703.0" y="530.0" font-family="Liberation Sans, sans-serif" font-size="9" fill="rgba(225,120,110,0.45)" font-style="italic">102</text>
<text x="733.0" y="527.0" font-family="Liberation Sans, sans-serif" font-size="10" fill="rgba(225,120,110,0.45)" font-style="italic">05</text>
<text x="559.0" y="502.0" font-family="Liberation Sans, sans-serif" font-size="10" fill="rgba(225,120,110,0.45)" font-style="italic">4</text>
<text x="570.0" y="514.0" font-family="Liberation Sans, sans-serif" font-size="10" fill="rgba(225,120,110,0.45)" font-style="italic">4</text>
<text x="507.0" y="416.0" font-family="Liberation Sans, sans-serif" font-size="10" fill="rgba(225,120,110,0.45)" font-style="italic">12</text>
<text x="960.0" y="154.0" font-family="Liberation Sans, sans-serif" font-size="10" fill="rgba(225,120,110,0.45)" font-style="italic">10</text>
<text x="875.0" y="183.0" font-family="Liberation Sans, sans-serif" font-size="10" fill="rgba(225,120,110,0.45)" font-style="italic">p=</text>
<text x="714.0" y="302.0" font-family="Liberation Sans, sans-serif" font-size="9" fill="rgba(225,120,110,0.45)" font-style="italic">11</text>
</svg>
<!--/MAPSVG-->
  </div>
  <div id="tbar">
    <svg style="position:absolute;left:8px;top:8px" width="22" height="22" viewBox="0 0 22 22">
      <g stroke="#b4bbc0" stroke-width="1.8" fill="none" stroke-linecap="butt">
        <path d="M2.2 2.2 L8 8 M19.8 2.2 L14 8 M2.2 19.8 L8 14 M19.8 19.8 L14 14"/>
      </g>
      <g fill="#b4bbc0">
        <path d="M1 1 L6.2 1 L1 6.2 Z M21 1 L15.8 1 L21 6.2 Z M1 21 L6.2 21 L1 15.8 Z M21 21 L15.8 21 L21 15.8 Z"/>
      </g>
    </svg>
    <svg style="position:absolute;left:44px;top:7px" width="26" height="26" viewBox="0 0 26 26">
      <circle cx="14.5" cy="10" r="7.6" fill="none" stroke="#b4bbc0" stroke-width="2"/>
      <path d="M11.3 10 H17.7" stroke="#b4bbc0" stroke-width="1.6"/>
      <path d="M6.3 17.8 L1.8 21.8" stroke="#b4bbc0" stroke-width="2"/>
    </svg>
    <svg style="position:absolute;left:81px;top:7px" width="26" height="26" viewBox="0 0 26 26">
      <circle cx="14.3" cy="10" r="7.6" fill="none" stroke="#b4bbc0" stroke-width="2"/>
      <path d="M11.1 10 H17.5 M14.3 6.8 V13.2" stroke="#b4bbc0" stroke-width="1.6"/>
      <path d="M6.1 17.8 L1.6 21.8" stroke="#b4bbc0" stroke-width="2"/>
    </svg>
    <span style="position:absolute;left:121px;top:0;">Deseleccionar</span>
    <svg class="xic" style="left:206px;top:12px" width="13" height="13" viewBox="0 0 13 13"><path d="M1.5 1.5 L11.5 11.5 M11.5 1.5 L1.5 11.5" stroke="#d0d4d7" stroke-width="3.2" fill="none"/></svg>
    <span style="position:absolute;left:237px;top:0;">Filtre</span>
    <svg class="xic" style="left:273px;top:12px" width="13" height="13" viewBox="0 0 13 13"><path d="M1.5 1.5 L11.5 11.5 M11.5 1.5 L1.5 11.5" stroke="#d0d4d7" stroke-width="3.2" fill="none"/></svg>
  </div>
  <div id="tip">
    <div class="t">Calella</div>
    <div class="l1"><b>Nombre de casos positius Covid-19</b>: 16</div>
    <div class="l2"><b>Taxa estandarditzada per 100.000 habitants:</b> 60,9</div>
  </div>
  <div id="legend">
    <div class="h">Casos positius COVID-19<br>per 100.000 habitants</div>
    <div class="li" style="top:54px"><span class="sw" style="background:#fff5d9"></span><span class="tx">0,4 - 46,4</span></div>
    <div class="li" style="top:73px;background:#b3daf3"><span class="sw" style="background:#fddba6"></span><span class="tx">46,5 - 79,8</span></div>
    <div class="li" style="top:92px"><span class="sw" style="background:#f3a25c"></span><span class="tx">79,9 - 114,2</span></div>
    <div class="li" style="top:111px"><span class="sw" style="background:#d5661b"></span><span class="tx">114,3 - 164,8</span></div>
    <div class="li" style="top:130px"><span class="sw" style="background:#8a3f0c"></span><span class="tx">164,9 - 451,2</span></div>
    <div class="li" style="top:149px"><span class="sw" style="background:#fff"></span><span class="tx">Sense casos</span></div>
    <div id="lsb"><div class="up"></div><div class="th"></div><div class="dn"></div></div>
  </div>
</div>
</body>
</html>
